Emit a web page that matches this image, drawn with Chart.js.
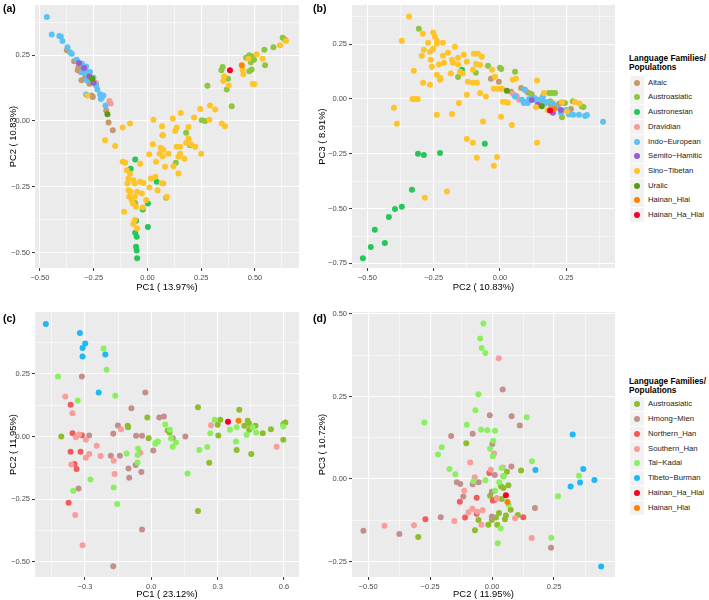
<!DOCTYPE html>
<html>
<head>
<meta charset="utf-8">
<script src="https://cdn.jsdelivr.net/npm/chart.js@4.4.0/dist/chart.umd.min.js"></script>
<style>
  body { margin:0; background:#fff; width:709px; height:600px; position:relative; overflow:hidden; font-family:"Liberation Sans", Arial, sans-serif; }
  .panel { position:absolute; }
  .tag { position:absolute; font-weight:bold; font-size:10.5px; color:#000; line-height:1; }
  .ltitle { position:absolute; font-weight:bold; font-size:8.3px; color:#000; line-height:1; white-space:nowrap; }
  .lkey { position:absolute; width:14px; height:14px; background:#F2F2F2; }
  .ldot { position:absolute; left:4px; top:4px; width:6px; height:6px; border-radius:50%; }
  .llab { position:absolute; font-size:7.7px; color:#1a1a1a; line-height:1; white-space:nowrap; }
</style>
</head>
<body>
<div class="panel" style="left:0;top:0;width:300px;height:295px"><canvas id="chartA"></canvas></div>
<div class="panel" style="left:300px;top:0;width:316px;height:295px"><canvas id="chartB"></canvas></div>
<div class="panel" style="left:0;top:300px;width:300px;height:300px"><canvas id="chartC"></canvas></div>
<div class="panel" style="left:300px;top:300px;width:316px;height:300px"><canvas id="chartD"></canvas></div>
<div class="tag" style="left:3px;top:3px">(a)</div>
<div class="tag" style="left:313px;top:3px">(b)</div>
<div class="tag" style="left:3px;top:313px">(c)</div>
<div class="tag" style="left:313px;top:313px">(d)</div>
<div id="legendB"></div>
<div id="legendD"></div>
<script>
// grupos y colores (paneles a y b)
const groupsAB = ['Altaic', 'Austroasiatic', 'Austronesian', 'Dravidian', 'Indo\u2212European', 'Semito\u2212Hamitic', 'Sino\u2212Tibetan', 'Uralic', 'Hainan_Hlai', 'Hainan_Ha_Hlai'];
const colorsAB = ['#C49A6C', '#8DC63F', '#25C75C', '#F59C9C', '#5BC2F5', '#9A5ED2', '#FFC42A', '#5A9A10', '#FF8200', '#F5002C'];
// grupos y colores (paneles c y d)
const groupsCD = ['Austroasiatic', 'Hmong\u2212Mien', 'Northern_Han', 'Southern_Han', 'Tai\u2212Kadai', 'Tibeto\u2212Burman', 'Hainan_Ha_Hlai', 'Hainan_Hlai'];
const colorsCD = ['#8DBE2C', '#C48E8E', '#F45A5A', '#F89C9C', '#8AF060', '#1DB8F5', '#F50020', '#F58200'];

// ---- panel (a) PC1 vs PC2 ----
const aAltaic = [[-0.375,0.268],[-0.341,0.227],[-0.321,0.205],[-0.31,0.186],[-0.307,0.154],[-0.29,0.167],[-0.27,0.141],[-0.259,0.097],[-0.254,0.091],[-0.192,0.04],[-0.181,-0.006],[-0.161,-0.035],[-0.324,0.192]];
const aAustroasiatic = [[0.18,-0.045],[0.198,-0.092],[0.132,-0.159],[0.071,-0.054],[0.253,0.003],[0.268,0.0],[0.279,0.134],[0.344,0.192],[0.35,0.205],[0.369,0.119],[0.375,0.16],[0.392,0.056],[0.459,0.24],[0.474,0.249],[0.485,0.245],[0.474,0.189],[0.485,0.195],[0.481,0.223],[0.496,0.232],[0.544,0.27],[0.547,0.211],[0.586,0.28],[0.629,0.316],[0.64,0.308],[0.087,-0.291],[-0.057,-0.311]];
const aAustronesian = [[-0.078,-0.181],[-0.057,-0.146],[0.043,-0.231],[0.002,-0.313],[-0.022,-0.336],[-0.057,-0.424],[-0.05,-0.439],[0.002,-0.402],[-0.053,-0.477],[-0.05,-0.492],[-0.048,-0.521],[-0.053,-0.379]];
const aDravidian = [[-0.177,0.076],[-0.171,0.066],[-0.239,0.144],[-0.215,0.097]];
const aIndoEuropean = [[-0.468,0.394],[-0.445,0.328],[-0.41,0.322],[-0.403,0.32],[-0.395,0.303],[-0.372,0.28],[-0.36,0.261],[-0.352,0.255],[-0.329,0.232],[-0.305,0.217],[-0.285,0.207],[-0.279,0.186],[-0.295,0.186],[-0.267,0.186],[-0.275,0.173],[-0.251,0.164],[-0.239,0.135],[-0.233,0.119],[-0.22,0.101],[-0.212,0.088],[-0.205,0.097],[-0.217,0.083],[-0.195,0.059],[-0.285,0.1],[-0.305,0.186],[-0.282,0.154]];
const aSemitoHamitic = [[-0.318,0.22],[-0.295,0.201],[-0.27,0.169],[-0.251,0.145]];
const aSinoTibetan = [[-0.279,0.097],[-0.197,-0.073],[-0.15,-0.095],[-0.115,-0.025],[-0.081,-0.01],[-0.115,-0.155],[-0.104,-0.159],[-0.096,-0.187],[-0.081,-0.199],[-0.088,-0.218],[-0.093,-0.237],[-0.088,-0.263],[-0.079,-0.269],[-0.085,-0.288],[-0.073,-0.3],[-0.068,-0.313],[-0.109,-0.345],[-0.065,-0.225],[-0.059,-0.237],[-0.048,-0.269],[-0.059,-0.288],[-0.053,-0.326],[-0.059,-0.376],[-0.065,-0.391],[-0.048,-0.408],[-0.034,-0.231],[-0.019,-0.235],[-0.026,-0.275],[-0.022,-0.328],[-0.006,-0.3],[-0.034,-0.162],[0.008,-0.126],[0.025,-0.088],[0.028,0.005],[0.016,-0.218],[0.009,-0.253],[0.037,-0.212],[0.047,-0.263],[0.04,-0.155],[0.056,-0.124],[0.062,-0.102],[0.074,-0.109],[0.071,-0.134],[0.068,-0.02],[0.07,-0.054],[0.082,-0.174],[0.074,-0.237],[0.066,-0.236],[0.09,-0.288],[0.098,-0.124],[0.118,0.009],[0.129,-0.038],[0.136,-0.025],[0.136,-0.098],[0.144,-0.136],[0.144,-0.199],[0.121,-0.172],[0.155,0.03],[0.152,-0.098],[0.152,-0.124],[0.172,-0.143],[0.191,-0.023],[0.18,-0.083],[0.191,-0.067],[0.202,-0.088],[0.222,-0.098],[0.217,0.013],[0.245,0.045],[0.25,-0.124],[0.291,0.059],[0.315,0.043],[0.288,0.005],[0.346,-0.01],[0.361,-0.02],[0.353,0.152],[0.357,0.169],[0.378,0.135],[0.443,0.194],[0.446,0.177],[0.47,0.236],[0.508,0.253],[0.536,0.236],[0.49,0.141],[0.497,0.139],[0.617,0.287],[0.645,0.303]];
const aUralic = [[-0.257,0.16],[-0.186,0.025]];
const aHainanHlai = [[0.439,0.211]];
const aHainanHaHlai = [[0.384,0.192]];

// ---- panel (b) PC2 vs PC3 ----
const bAltaic = [[-0.034,0.093],[-0.004,0.079],[0.042,0.033],[0.094,0.042],[0.105,0.03],[0.162,-0.01],[0.192,-0.026],[0.21,-0.03],[0.268,-0.045],[0.12,0.02],[0.225,-0.02],[0.08,0.05]];
const bAustroasiatic = [[-0.306,0.321],[-0.158,0.1],[-0.091,0.12],[-0.045,0.152],[0.0,0.143],[0.005,0.137],[0.057,0.125],[0.117,0.024],[0.162,0.011],[0.185,0.028],[0.196,0.028],[0.208,0.028],[0.245,-0.018],[0.234,-0.083],[0.309,-0.034],[0.315,-0.036],[0.275,-0.01],[0.19,-0.01]];
const bAustronesian = [[-0.143,0.134],[-0.309,-0.25],[-0.287,-0.255],[-0.226,-0.246],[-0.332,-0.414],[-0.37,-0.492],[-0.396,-0.502],[-0.419,-0.538],[-0.472,-0.597],[-0.487,-0.675],[-0.434,-0.657],[-0.517,-0.727],[-0.057,-0.204]];
const bDravidian = [[0.049,0.024],[0.064,0.011],[0.072,-0.003],[0.06,0.015]];
const bIndoEuropean = [[0.057,0.011],[0.083,-0.003],[0.094,-0.014],[0.105,-0.018],[0.09,-0.018],[0.094,0.042],[0.132,0.004],[0.151,-0.003],[0.177,-0.014],[0.17,-0.02],[0.16,0.005],[0.23,-0.063],[0.276,-0.072],[0.298,-0.072],[0.321,-0.077],[0.328,-0.073],[0.389,-0.104],[0.215,-0.04],[0.2,-0.02],[0.11,0.0],[0.14,-0.01],[0.25,-0.05],[0.26,-0.07]];
const bSemitoHamitic = [[0.143,-0.026],[0.2,-0.063],[0.23,-0.05],[0.12,-0.005]];
const bSinoTibetan = [[-0.343,0.377],[-0.37,0.266],[-0.325,0.129],[-0.32,0.0],[-0.31,0.0],[-0.33,0.0],[-0.4,-0.04],[-0.389,-0.113],[-0.29,0.074],[-0.264,0.065],[-0.295,0.198],[-0.287,0.225],[-0.291,0.298],[-0.271,0.257],[-0.261,0.179],[-0.264,0.216],[-0.252,0.229],[-0.252,0.303],[-0.245,0.284],[-0.238,0.266],[-0.238,0.252],[-0.215,0.257],[-0.238,0.111],[-0.226,0.097],[-0.226,0.088],[-0.257,0.147],[-0.23,0.157],[-0.211,0.166],[-0.215,0.198],[-0.196,0.211],[-0.238,-0.072],[-0.181,0.179],[-0.177,0.166],[-0.185,0.116],[-0.158,0.188],[-0.158,0.157],[-0.17,0.239],[-0.181,-0.068],[-0.155,-0.018],[-0.151,0.125],[-0.14,0.116],[-0.136,0.202],[-0.125,0.17],[-0.125,0.019],[-0.121,0.079],[-0.125,-0.182],[-0.098,0.207],[-0.102,0.134],[-0.102,0.074],[-0.087,-0.268],[-0.102,-0.2],[-0.087,0.074],[-0.075,0.028],[-0.083,0.207],[-0.068,0.193],[-0.064,-0.103],[-0.053,0.011],[-0.283,-0.451],[-0.2,-0.422],[-0.03,0.134],[-0.019,0.102],[-0.023,0.047],[-0.011,0.047],[0.0,0.047],[0.008,0.047],[0.011,-0.012],[0.02,-0.012],[0.03,-0.017],[0.049,0.088],[0.06,0.092],[0.004,-0.081],[0.045,-0.118],[0.14,0.084],[0.14,-0.2],[0.136,-0.037],[0.166,0.028],[0.234,-0.014],[0.253,-0.057],[0.283,-0.014],[0.3,-0.02],[-0.011,-0.264],[-0.023,-0.305],[0.18,-0.05],[-0.09,0.16],[-0.075,0.155]];
const bUralic = [[0.026,0.038],[0.158,-0.033]];
const bHainanHlai = [[0.204,-0.045]];
const bHainanHaHlai = [[0.189,-0.052]];

// ---- panel (c) PC1 vs PC2 ----
const cAustroasiatic = [[-0.407,0.0],[-0.107,0.043],[-0.105,0.037],[-0.018,0.076],[-0.012,-0.007],[0.074,0.024],[0.082,0.016],[0.211,0.117],[0.211,-0.297],[0.262,-0.104],[0.3,0.047],[0.303,0.004],[0.312,0.067],[0.398,0.107],[0.386,-0.053],[0.421,0.043],[0.436,0.063],[0.443,0.027],[0.443,0.051],[0.452,-0.069],[0.471,0.043],[0.504,0.013],[0.541,0.029],[0.597,-0.013],[0.597,0.049],[0.606,0.056]];
const cHmongMien = [[-0.314,0.24],[-0.329,-0.207],[-0.281,0.004],[-0.172,0.011],[-0.183,-0.076],[-0.151,0.044],[-0.142,-0.076],[-0.09,0.113],[-0.069,0.003],[-0.042,0.003],[-0.027,0.176],[-0.103,-0.127],[-0.1,-0.164],[-0.071,-0.113],[-0.045,-0.141],[-0.042,-0.371],[-0.172,-0.517],[0.009,-0.055],[0.036,0.076],[0.057,0.08],[0.097,-0.007],[0.154,0.0]];
const cNorthernHan = [[-0.365,0.127],[-0.356,0.013],[-0.365,-0.06],[-0.347,-0.109],[-0.338,-0.129],[-0.32,-0.06],[-0.314,0.005],[-0.374,-0.264]];
const cSouthernHan = [[-0.389,0.16],[-0.357,0.093],[-0.341,-0.003],[-0.326,0.008],[-0.362,-0.111],[-0.344,-0.313],[-0.311,-0.433],[-0.296,-0.013],[-0.296,-0.084],[-0.281,-0.069],[-0.247,-0.036],[-0.229,-0.077],[-0.17,-0.096],[-0.166,-0.149],[-0.137,0.029],[-0.05,-0.064],[0.27,0.045],[0.567,-0.04]];
const cTaiKadai = [[-0.422,0.24],[-0.333,0.144],[-0.353,-0.216],[-0.275,-0.171],[-0.216,0.351],[-0.202,0.267],[-0.163,0.163],[-0.17,-0.203],[-0.154,-0.269],[-0.06,-0.048],[-0.062,-0.073],[-0.062,-0.103],[-0.112,-0.067],[0.018,-0.029],[0.021,-0.025],[0.03,-0.02],[0.063,0.048],[0.084,0.027],[0.089,-0.008],[0.097,-0.04],[0.112,-0.024],[0.164,-0.147],[0.217,-0.053],[0.253,-0.041],[0.267,0.013],[0.287,0.067],[0.356,0.027],[0.386,0.037],[0.431,0.007],[0.458,0.037],[0.474,0.016],[0.597,0.04],[0.383,-0.02]];
const cTibetoBurman = [[-0.477,0.449],[-0.323,0.413],[-0.299,0.371],[-0.311,0.353],[-0.311,0.32],[-0.208,0.327],[-0.238,0.176]];
const cHainanHaHlai = [[0.347,0.059]];
const cHainanHlai = [[0.395,0.063]];

// ---- panel (d) PC2 vs PC3 ----
const dAustroasiatic = [[-0.104,0.108],[0.117,0.026],[0.06,0.022],[0.046,0.008],[0.066,-0.019],[0.036,-0.022],[0.046,-0.027],[-0.008,-0.051],[0.019,-0.058],[0.039,-0.061],[0.075,-0.093],[0.028,-0.103],[0.016,-0.117],[0.056,-0.111],[0.052,-0.122],[0.104,-0.109],[-0.055,-0.124],[-0.001,-0.124],[-0.015,-0.139],[0.021,-0.139],[-0.069,-0.155],[-0.298,-0.176]];
const dHmongMien = [[0.043,0.271],[-0.009,0.193],[0.079,0.19],[0.112,0.162],[-0.078,0.137],[-0.165,0.13],[0.001,0.106],[0.078,0.038],[0.011,0.012],[-0.142,-0.01],[-0.128,-0.015],[-0.078,-0.016],[-0.054,-0.01],[-0.116,-0.053],[-0.001,-0.039],[-0.001,-0.114],[-0.207,-0.116],[0.173,-0.088],[0.238,-0.208],[-0.374,-0.167],[-0.519,-0.157]];
const dNorthernHan = [[0.012,-0.063],[0.003,-0.065],[-0.062,-0.057],[-0.13,-0.069],[-0.109,-0.117],[-0.062,-0.105],[0.126,-0.116],[-0.269,-0.122],[-0.011,0.018]];
const dSouthernHan = [[0.027,0.366],[-0.088,0.05],[-0.005,0.028],[0.008,0.077],[-0.07,0.005],[0.043,0.035],[-0.112,-0.036],[-0.079,-0.09],[-0.095,-0.101],[-0.059,-0.099],[-0.038,-0.095],[-0.152,-0.127],[-0.043,-0.139],[0.093,-0.119],[0.16,-0.179],[-0.315,-0.14],[0.019,-0.06],[-0.434,-0.142]];
const dTaiKadai = [[-0.035,0.471],[-0.048,0.426],[-0.042,0.397],[-0.027,0.382],[-0.055,0.257],[-0.067,0.208],[-0.102,0.164],[-0.044,0.149],[-0.019,0.148],[0.012,0.146],[0.14,0.187],[-0.273,0.171],[-0.203,0.096],[-0.218,0.074],[0.005,0.116],[-0.008,0.092],[0.003,0.069],[0.161,0.054],[-0.172,0.03],[-0.148,0.014],[-0.075,-0.007],[-0.027,-0.004],[0.038,0.033],[0.048,0.008],[0.029,-0.01],[0.012,-0.036],[0.067,-0.078],[0.035,-0.15],[0.023,-0.195],[0.239,-0.178],[0.266,-0.052],[0.351,0.01]];
const dTibetoBurman = [[0.325,0.135],[0.175,0.027],[0.368,0.03],[0.413,-0.003],[0.355,-0.011],[0.317,-0.023],[0.44,-0.265]];
const dHainanHaHlai = [[0.056,-0.049]];
const dHainanHlai = [[0.062,-0.07]];

// ejes: ticks y limites
const ticksA_x = [-0.5, -0.25, 0, 0.25, 0.5];
const ticksA_y = [-0.5, -0.25, 0, 0.25];
const ticksB_x = [-0.5, -0.25, 0, 0.25];
const ticksB_y = [-0.75, -0.5, -0.25, 0, 0.25];
const ticksC_x = [-0.3, 0, 0.3, 0.6];
const ticksC_y = [-0.5, -0.25, 0, 0.25];
const ticksD_x = [-0.5, -0.25, 0, 0.25];
const ticksD_y = [-0.25, 0, 0.25, 0.5];

const FONT = '"Liberation Sans", Arial, sans-serif';

function fmt(v, dec) {
  const s = Math.abs(v).toFixed(dec);
  return (v < -1e-9 ? '\u2212' : '') + s;
}

// majors + minors (puntos medios)
function makeTicks(majors, min, max) {
  const step = majors[1] - majors[0];
  const out = [];
  for (let v = majors[0] - step; v <= majors[majors.length - 1] + step + 1e-9; v += step / 2) {
    const val = Math.round(v * 100000) / 100000;
    if (val < min || val > max) continue;
    const isMajor = majors.some(m => Math.abs(m - val) < 1e-6);
    out.push({ value: val, minor: !isMajor });
  }
  return out;
}

const bgPlugin = {
  id: 'panelBg',
  beforeDraw(chart) {
    const a = chart.chartArea;
    chart.ctx.save();
    chart.ctx.fillStyle = '#EBEBEB';
    chart.ctx.fillRect(a.left, a.top, a.right - a.left, a.bottom - a.top);
    chart.ctx.restore();
  }
};

function axis(majors, min, max, dec, title, isX, size, titlePad) {
  return {
    type: 'linear',
    min: min, max: max,
    afterBuildTicks: s => { s.ticks = makeTicks(majors, min, max); },
    afterFit: s => {
      if (isX) s.height = size; else s.width = size;
      s.paddingLeft = 0; s.paddingRight = 0; s.paddingTop = 0; s.paddingBottom = 0;
    },
    border: { display: false },
    grid: {
      color: '#FFFFFF',
      lineWidth: c => (c.tick && c.tick.minor) ? 0.55 : 1.1,
      tickLength: 3,
      tickColor: c => (c.tick && c.tick.minor) ? 'rgba(0,0,0,0)' : '#333333',
      tickWidth: 1
    },
    ticks: {
      autoSkip: false, maxRotation: 0, minRotation: 0,
      padding: 2,
      color: '#4D4D4D',
      font: { family: FONT, size: 7.5 },
      callback: (v, i, t) => t[i].minor ? '' : fmt(v, dec)
    },
    title: {
      display: true, text: title, color: '#000',
      font: { family: FONT, size: 9.4 },
      padding: isX ? { top: 0, bottom: titlePad } : { top: titlePad, bottom: 0 }
    }
  };
}

function makeChart(id, groups, colors, data, xs, ys, pad) {
  const datasets = groups.map((g, i) => ({
    label: g,
    data: data[i].map(p => ({ x: p[0], y: p[1] })),
    backgroundColor: colors[i],
    borderWidth: 0,
    pointRadius: 3,
    pointHoverRadius: 3
  })).reverse();
  return new Chart(document.getElementById(id), {
    type: 'scatter',
    data: { datasets: datasets },
    options: {
      responsive: true,
      maintainAspectRatio: false,
      animation: false,
      events: [],
      layout: { autoPadding: false, padding: pad },
      plugins: { legend: { display: false }, tooltip: { enabled: false } },
      scales: { x: xs, y: ys }
    },
    plugins: [bgPlugin]
  });
}

makeChart('chartA', groupsAB, colorsAB,
  [aAltaic, aAustroasiatic, aAustronesian, aDravidian, aIndoEuropean, aSemitoHamitic, aSinoTibetan, aUralic, aHainanHlai, aHainanHaHlai],
  axis(ticksA_x, -0.523, 0.705, 2, 'PC1 ( 13.97%)', true, 27, 2),
  axis(ticksA_y, -0.558, 0.44, 2, 'PC2 ( 10.83%)', false, 35, 7.6),
  { top: 5, right: 1, left: 0, bottom: 0 });

makeChart('chartB', groupsAB, colorsAB,
  [bAltaic, bAustroasiatic, bAustronesian, bDravidian, bIndoEuropean, bSemitoHamitic, bSinoTibetan, bUralic, bHainanHlai, bHainanHaHlai],
  axis(ticksB_x, -0.558, 0.434, 2, 'PC2 ( 10.83%)', true, 27, 2),
  axis(ticksB_y, -0.771, 0.429, 2, 'PC3 ( 8.91%)', false, 52, 16.6),
  { top: 5, right: 1, left: 0, bottom: 0 });

makeChart('chartC', groupsCD, colorsCD,
  [cAustroasiatic, cHmongMien, cNorthernHan, cSouthernHan, cTaiKadai, cTibetoBurman, cHainanHaHlai, cHainanHlai],
  axis(ticksC_x, -0.526, 0.668, 1, 'PC1 ( 23.12%)', true, 23, 0),
  axis(ticksC_y, -0.56, 0.497, 2, 'PC2 ( 11.95%)', false, 35, 7.6),
  { top: 12, right: 1, left: 0, bottom: 0 });

makeChart('chartD', groupsCD, colorsCD,
  [dAustroasiatic, dHmongMien, dNorthernHan, dSouthernHan, dTaiKadai, dTibetoBurman, dHainanHaHlai, dHainanHlai],
  axis(ticksD_x, -0.565, 0.496, 2, 'PC2 ( 11.95%)', true, 23, 0),
  axis(ticksD_y, -0.297, 0.506, 2, 'PC3 ( 10.72%)', false, 52, 16.6),
  { top: 12, right: 1, left: 0, bottom: 0 });

// leyendas (estilo ggplot)
function buildLegend(id, groups, colors, left, titleTop, firstCenter, spacing) {
  const box = document.getElementById(id);
  const t1 = document.createElement('div');
  t1.className = 'ltitle';
  t1.style.left = left + 'px'; t1.style.top = titleTop + 'px';
  t1.textContent = 'Language Families/';
  box.appendChild(t1);
  const t2 = t1.cloneNode();
  t2.style.top = (titleTop + 9) + 'px';
  t2.textContent = 'Populations';
  box.appendChild(t2);
  groups.forEach((g, i) => {
    const cy = firstCenter + i * spacing;
    const key = document.createElement('div');
    key.className = 'lkey';
    key.style.left = (left + 0.5) + 'px'; key.style.top = (cy - 7) + 'px';
    const dot = document.createElement('div');
    dot.className = 'ldot';
    dot.style.background = colors[i];
    key.appendChild(dot);
    box.appendChild(key);
    const lab = document.createElement('div');
    lab.className = 'llab';
    lab.style.left = (left + 19) + 'px'; lab.style.top = (cy - 4) + 'px';
    lab.textContent = g;
    box.appendChild(lab);
  });
}
buildLegend('legendB', groupsAB, colorsAB, 629, 54, 82.7, 14.7);
buildLegend('legendD', groupsCD, colorsCD, 629, 376.5, 404.3, 14.77);
</script>
</body>
</html>
